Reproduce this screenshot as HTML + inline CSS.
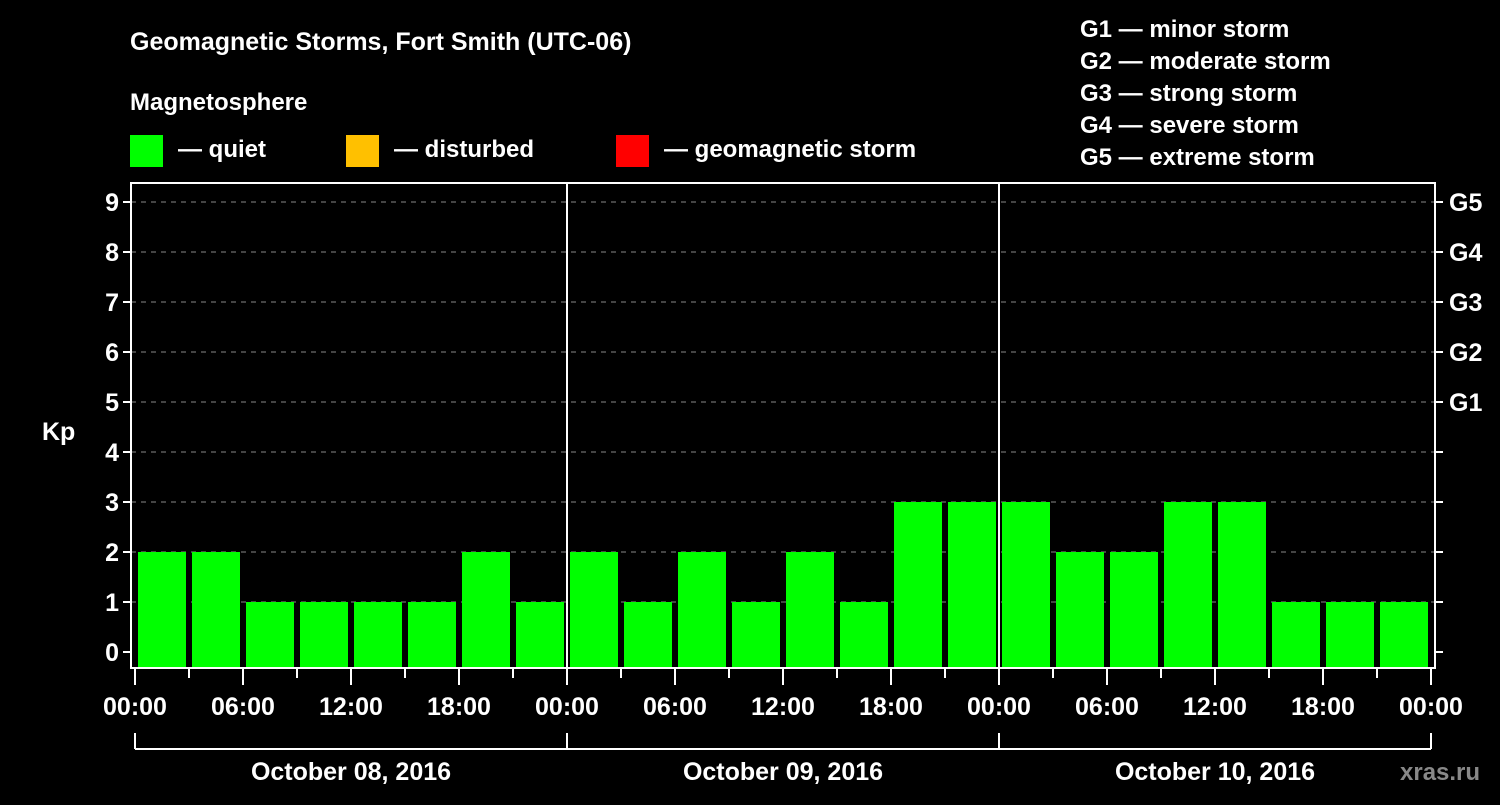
<!DOCTYPE html>
<html><head><meta charset="utf-8"><style>
body{margin:0;background:#000;width:1500px;height:800px;overflow:hidden}
text{font-family:"Liberation Sans",sans-serif;font-weight:bold;fill:#fff}
</style></head><body>
<svg id="c" width="1500" height="800" xmlns="http://www.w3.org/2000/svg">
<text x="130" y="50" font-size="25">Geomagnetic Storms, Fort Smith (UTC-06)</text>
<text x="130" y="110" font-size="24">Magnetosphere</text>
<rect x="130" y="135" width="33" height="32" fill="#00ff00"/>
<text x="178" y="157" font-size="24">— quiet</text>
<rect x="346" y="135" width="33" height="32" fill="#ffc000"/>
<text x="394" y="157" font-size="24">— disturbed</text>
<rect x="616" y="135" width="33" height="32" fill="#ff0000"/>
<text x="664" y="157" font-size="24">— geomagnetic storm</text>
<g font-size="24">
<text x="1080" y="37">G1 — minor storm</text>
<text x="1080" y="69">G2 — moderate storm</text>
<text x="1080" y="101">G3 — strong storm</text>
<text x="1080" y="133">G4 — severe storm</text>
<text x="1080" y="165">G5 — extreme storm</text>
</g>
<text x="42" y="440" font-size="25">Kp</text>
<text x="1400" y="780" font-size="24" fill="#888" style="fill:#888">xras.ru</text>
<g id="g"></g>
</svg>
<script>
const kpValues=[2,2,1,1,1,1,2,1, 2,1,2,1,2,1,3,3, 3,2,2,3,3,1,1,1];
const dayLabels=["October 08, 2016","October 09, 2016","October 10, 2016"];
const hourLabels=["00:00","06:00","12:00","18:00"];
const gLabels=["G1","G2","G3","G4","G5"];
const yTicks=[0,1,2,3,4,5,6,7,8,9];
const NS="http://www.w3.org/2000/svg";
const g=document.getElementById('g');
const L=131,R=1435,T=183,B=668,x0=135,dayW=432;
const y=v=>652-v*50;
const x=h=>x0+h*dayW/24;
function mk(t,a,p){const e=document.createElementNS(NS,t);for(const k in a)e.setAttribute(k,a[k]);(p||g).appendChild(e);return e;}
yTicks.forEach(v=>{
 if(v>0){const l=mk('line',{x1:L,x2:R,y1:y(v),y2:y(v),stroke:'#888','stroke-dasharray':'5,5','stroke-width':1});
 }
 mk('line',{x1:L-8,x2:L,y1:y(v),y2:y(v),stroke:'#fff','stroke-width':2});
 mk('line',{x1:R,x2:R+8,y1:y(v),y2:y(v),stroke:'#fff','stroke-width':2});
 const t=mk('text',{x:L-12,y:y(v)+9,'font-size':25,'text-anchor':'end'});t.textContent=v;
 
});
gLabels.forEach((s,i)=>{const t=mk('text',{x:R+14,y:y(5+i)+9,'font-size':25});t.textContent=s;
 });
kpValues.forEach((v,i)=>{
 const r=mk('rect',{x:x(i*3)+3,y:y(v),width:48,height:B-y(v),fill:v>=5?'#ff0000':(v>=4?'#ffc000':'#00ff00')});
 
});
mk('rect',{x:L,y:T,width:R-L,height:B-T,fill:'none',stroke:'#fff','stroke-width':2});
for(let d=1;d<3;d++)mk('line',{x1:x(d*24),x2:x(d*24),y1:T,y2:B,stroke:'#fff','stroke-width':2});
for(let h=0;h<=72;h+=3){
 const major=h%6==0;
 mk('line',{x1:x(h),x2:x(h),y1:B,y2:B+(major?17:10),stroke:'#fff','stroke-width':2});
 if(major){const t=mk('text',{x:x(h),y:715,'font-size':25,'text-anchor':'middle'});t.textContent=hourLabels[(h/6)%4];
 }
}
mk('line',{x1:x(0),x2:x(72),y1:749,y2:749,stroke:'#fff','stroke-width':2});
for(let d=0;d<=3;d++)mk('line',{x1:x(d*24),x2:x(d*24),y1:733,y2:749,stroke:'#fff','stroke-width':2});
dayLabels.forEach((s,d)=>{const t=mk('text',{x:x(d*24+12),y:780,'font-size':25,'text-anchor':'middle'});t.textContent=s;
 });
</script>
</body></html>
